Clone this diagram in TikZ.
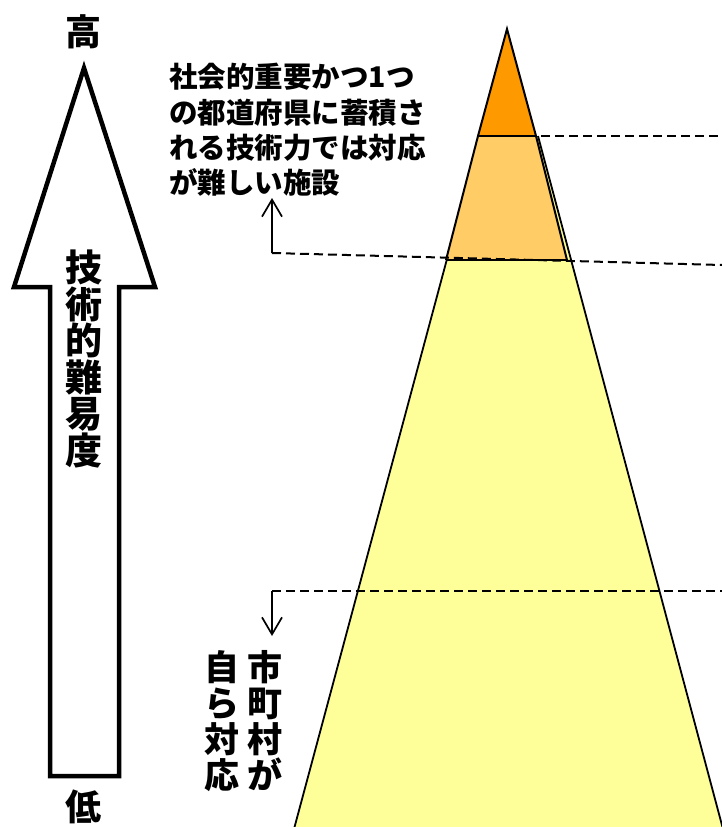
\documentclass[tikz,border=0pt]{standalone}
\usepackage{fontspec}
\newfontfamily\jp{Noto Sans CJK JP}
\usetikzlibrary{arrows.meta}
\definecolor{topor}{HTML}{FF9900}
\definecolor{midor}{HTML}{FFCC66}
\definecolor{lowye}{HTML}{FFFF99}
\begin{document}
\begin{tikzpicture}[x=1pt,y=-1pt,
  edge/.style={draw=black,line width=2pt,line join=miter},
  band/.style={draw=black,line width=2.6pt},
  guide/.style={draw=black,line width=2pt,dash pattern=on 9pt off 5pt},
  pointer/.style={draw=black,line width=1.7pt,-{Straight Barb[length=17pt,width=20pt,line width=1.7pt]}},
  bigarrow/.style={draw=black,fill=white,line width=4.5pt,line join=miter},
  jtext/.style={font=\jp\bfseries\fontsize{28.5}{35}\selectfont,inner sep=0pt,anchor=base west},
  vtext/.style={font=\jp\bfseries\fontsize{35}{36}\selectfont,inner sep=0pt,align=center},
  endlabel/.style={font=\jp\bfseries\fontsize{36}{36}\selectfont,inner sep=0pt}]
\useasboundingbox (0,0) rectangle (722,827);
% big arrow
\draw[bigarrow] (84,68) -- (155,287) -- (119,287) -- (119,776) -- (50,776) -- (50,287) -- (14,287) -- cycle;
\node[endlabel] (hi) at (83,32) {高};
\node[endlabel] (lo) at (83,807) {低};
\node[vtext,font=\jp\bfseries\fontsize{37}{36.6}\selectfont] (diff) at (84,359) {技\\術\\的\\難\\易\\度};
% pyramid
\fill[lowye] (480,136) -- (538,136) -- (723,829) -- (294,829) -- cycle;
\draw[edge,line width=1.8pt] (538,136) -- (723,829);
\draw[edge,line width=1.8pt] (480,136) -- (294,829);
\fill[midor] (478,136) -- (536,136) -- (567,260) -- (446,260) -- cycle;
\draw[edge] (478,136) -- (446,260);
\draw[edge] (536,136) -- (567,260);
\draw[band] (446,260) -- (567,260);
\fill[topor] (507,29) -- (536,136) -- (478,136) -- cycle;
\draw[edge] (478,136) -- (507,29) -- (536,136);
\draw[band] (478,136) -- (536,136);
% guides
\coordinate (g1s) at (541,136);
\coordinate (g1e) at (722,136);
\coordinate (g2s) at (272,253);
\coordinate (g2e) at (722,265);
\coordinate (g2t) at (272,198);
\coordinate (g3s) at (272,591);
\coordinate (g3e) at (722,591);
\coordinate (g3t) at (272,636);
\draw[guide] (g1s) -- (g1e);
\draw[guide] (g2s) -- (g2e);
\draw[guide] (g3s) -- (g3e);
\draw[pointer] (g2s) -- (g2t);
\draw[pointer] (g3s) -- (g3t);
% labels
\node[jtext] (l1) at (169,87) {社会的重要かつ1つ};
\node[jtext] (l2) at (169,123) {の都道府県に蓄積さ};
\node[jtext] (l3) at (169,158) {れる技術力では対応};
\node[jtext] (l4) at (169,193) {が難しい施設};
\node[vtext] (c1) at (265,721) {市\\町\\村\\が};
\node[vtext] (c2) at (222,721) {自\\ら\\対\\応};
\end{tikzpicture}
\end{document}
